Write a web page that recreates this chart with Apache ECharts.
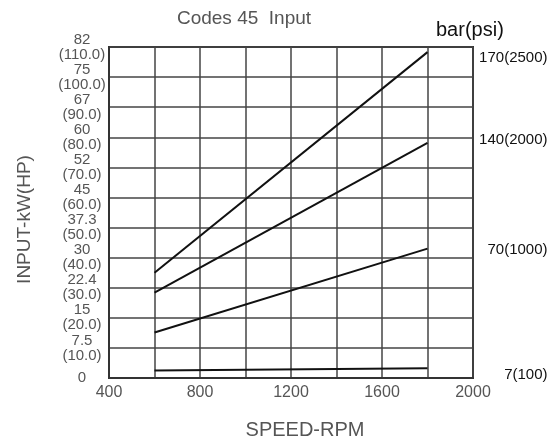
<!DOCTYPE html>
<html>
<head>
<meta charset="utf-8">
<script src="https://cdn.jsdelivr.net/npm/echarts@6/dist/echarts.min.js"></script>
<style>html,body{margin:0;padding:0;background:#fff}#c{width:560px;height:445px}</style>
</head>
<body>
<div id="c"></div>
<script>
var speeds = [600, 1800];
var line170 = [35.0, 108.3];
var line140 = [28.4, 78.1];
var line70 = [15.1, 43.0];
var line7 = [2.5, 3.2];
var seriesNames = ['170(2500)', '140(2000)', '70(1000)', '7(100)'];
var kwLabels = ['0', '7.5', '15', '22.4', '30', '37.3', '45', '52', '60', '67', '75', '82'];
var hpLabels = ['', '(10.0)', '(20.0)', '(30.0)', '(40.0)', '(50.0)', '(60.0)', '(70.0)', '(80.0)', '(90.0)', '(100.0)', '(110.0)'];
var xTickLabels = [400, 800, 1200, 1600, 2000];

var FF = 'Liberation Sans, Arial, sans-serif';
var chart = echarts.init(document.getElementById('c'), null, {renderer: 'canvas'});
function mk(name, vals, off) {
  return {
    type: 'line', name: name, symbol: 'none',
    data: speeds.map(function (s, i) { return [s, vals[i]]; }),
    lineStyle: {color: '#111', width: 2},
    endLabel: {show: true, formatter: name, position: 'right', distance: 0, align: 'right',
      offset: [120, off], color: '#111', fontSize: 15, fontFamily: FF}
  };
}
chart.setOption({
  animation: false,
  title: [
    {text: 'Codes 45  Input', left: 239, top: 4, textAlign: 'center',
      textStyle: {color: '#555', fontSize: 19, fontWeight: 'normal', fontFamily: FF}},
    {text: 'bar(psi)', left: 431, top: 15,
      textStyle: {color: '#111', fontSize: 20, fontWeight: 'normal', fontFamily: FF}}
  ],
  grid: {left: 109, right: 87, top: 47, bottom: 66, show: true, borderColor: '#333', borderWidth: 2},
  xAxis: {
    type: 'value', min: 400, max: 2000, interval: 200,
    name: 'SPEED-RPM', nameLocation: 'middle', nameGap: 42,
    nameTextStyle: {color: '#555', fontSize: 20, fontFamily: FF, padding: [0, 0, 0, 28]},
    axisLine: {show: true, lineStyle: {color: '#333', width: 2}},
    axisTick: {show: false},
    splitLine: {show: true, lineStyle: {color: '#444', width: 1.5}},
    axisLabel: {color: '#555', fontSize: 16, margin: 7, fontFamily: FF,
      formatter: function (v) { return xTickLabels.indexOf(v) >= 0 ? String(v) : ''; }}
  },
  yAxis: {
    type: 'value', min: 0, max: 110, interval: 10,
    name: 'INPUT-kW(HP)', nameLocation: 'middle', nameGap: 75,
    nameTextStyle: {color: '#555', fontSize: 19, fontFamily: FF, padding: [0, 14, 0, 0]},
    axisLine: {show: true, lineStyle: {color: '#333', width: 2}},
    axisTick: {show: false},
    splitLine: {show: true, lineStyle: {color: '#444', width: 1.5}},
    axisLabel: {color: '#555', fontSize: 15, lineHeight: 15, align: 'center', margin: 27,
      fontFamily: FF,
      formatter: function (v) {
        var i = Math.round(v / 10);
        return i === 0 ? kwLabels[0] : kwLabels[i] + '\n' + hpLabels[i];
      }}
  },
  series: [
    mk(seriesNames[0], line170, 6),
    mk(seriesNames[1], line140, -3),
    mk(seriesNames[2], line70, 1),
    mk(seriesNames[3], line7, 6)
  ]
});
</script>
</body>
</html>
